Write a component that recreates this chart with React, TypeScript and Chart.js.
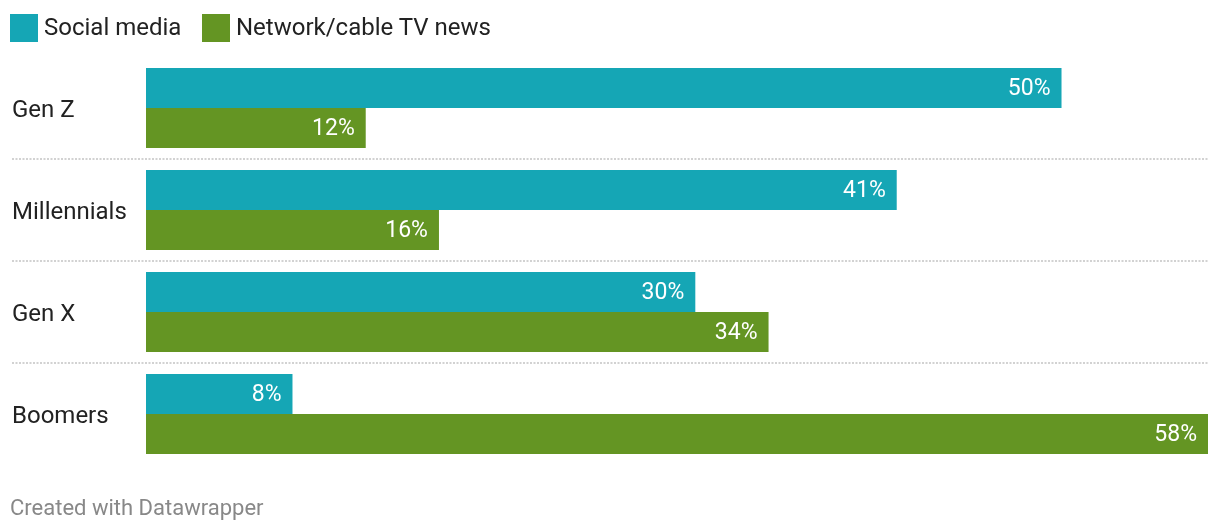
import React, { useEffect, useRef } from "react";
import { Chart, registerables } from "chart.js";

Chart.register(...registerables);

const categories = ["Gen Z", "Millennials", "Gen X", "Boomers"];
const socialMedia = [50, 41, 30, 8];
const networkTV = [12, 16, 34, 58];
const seriesNames = ["Social media", "Network/cable TV news"];
const footerText = "Created with Datawrapper";

const TEAL = "#15a6b5";
const GREEN = "#649523";
const FONT = "Roboto, 'Noto Sans', sans-serif";

const separatorPlugin = {
  id: "separators",
  beforeDatasetsDraw(chart: any) {
    const { ctx, chartArea } = chart;
    const y = chart.scales.y;
    ctx.save();
    ctx.strokeStyle = "#d2d2d2";
    ctx.lineWidth = 2;
    ctx.setLineDash([2, 1.5]);
    for (let i = 1; i < categories.length; i++) {
      const py = Math.round((y.getPixelForTick(i - 1) + y.getPixelForTick(i)) / 2);
      ctx.beginPath();
      ctx.moveTo(12, py);
      ctx.lineTo(chartArea.right, py);
      ctx.stroke();
    }
    ctx.restore();
  },
};

const valueLabelPlugin = {
  id: "valueLabels",
  afterDatasetsDraw(chart: any) {
    const { ctx } = chart;
    ctx.save();
    ctx.fillStyle = "#ffffff";
    ctx.font = `23px ${FONT}`;
    ctx.textAlign = "right";
    ctx.textBaseline = "middle";
    chart.data.datasets.forEach((ds: any, di: number) => {
      const meta = chart.getDatasetMeta(di);
      meta.data.forEach((bar: any, i: number) => {
        ctx.fillText(`${ds.data[i]}%`, bar.x - 11, bar.y + 1);
      });
    });
    ctx.restore();
  },
};

export default function App() {
  const canvasRef = useRef<HTMLCanvasElement | null>(null);

  useEffect(() => {
    if (!canvasRef.current) return;
    const chart = new Chart(canvasRef.current, {
      type: "bar",
      data: {
        labels: categories,
        datasets: [
          {
            label: seriesNames[0],
            data: socialMedia,
            backgroundColor: TEAL,
            borderWidth: 0,
            barPercentage: 1,
            categoryPercentage: 80 / 102,
          },
          {
            label: seriesNames[1],
            data: networkTV,
            backgroundColor: GREEN,
            borderWidth: 0,
            barPercentage: 1,
            categoryPercentage: 80 / 102,
          },
        ],
      },
      options: {
        indexAxis: "y",
        responsive: false,
        animation: false,
        devicePixelRatio: 1,
        layout: { padding: { left: 12, right: 12, top: 57, bottom: 67 } },
        plugins: {
          legend: { display: false },
          tooltip: { enabled: false },
          title: { display: false },
        },
        scales: {
          x: { display: false, min: 0, max: 58 },
          y: {
            grid: { display: false, drawTicks: false },
            border: { display: false },
            ticks: {
              crossAlign: "far",
              padding: 0,
              labelOffset: 3,
              color: "#222222",
              font: { family: FONT, size: 24 },
            },
            afterFit(scale: any) {
              scale.width = 134;
            },
          },
        },
      } as any,
      plugins: [separatorPlugin, valueLabelPlugin],
    });
    return () => chart.destroy();
  }, []);

  const textStyle: React.CSSProperties = {
    position: "absolute",
    fontFamily: FONT,
    fontSize: 24,
    lineHeight: "28px",
    color: "#222222",
    whiteSpace: "nowrap",
  };

  return (
    <div style={{ position: "absolute", left: 0, top: 0, width: 1220, height: 532, background: "#fff" }}>
      <canvas ref={canvasRef} width={1220} height={532} style={{ position: "absolute", left: 0, top: 0 }} />
      <div style={{ position: "absolute", left: 10, top: 14, width: 28, height: 28, background: TEAL }} />
      <div style={{ ...textStyle, left: 44, top: 13 }}>{seriesNames[0]}</div>
      <div style={{ position: "absolute", left: 202, top: 14, width: 28, height: 28, background: GREEN }} />
      <div style={{ ...textStyle, left: 236, top: 13 }}>{seriesNames[1]}</div>
      <div
        style={{
          position: "absolute",
          left: 10,
          top: 497,
          fontFamily: FONT,
          fontSize: 22,
          lineHeight: "22px",
          color: "#888888",
          whiteSpace: "nowrap",
        }}
      >
        {footerText}
      </div>
    </div>
  );
}
